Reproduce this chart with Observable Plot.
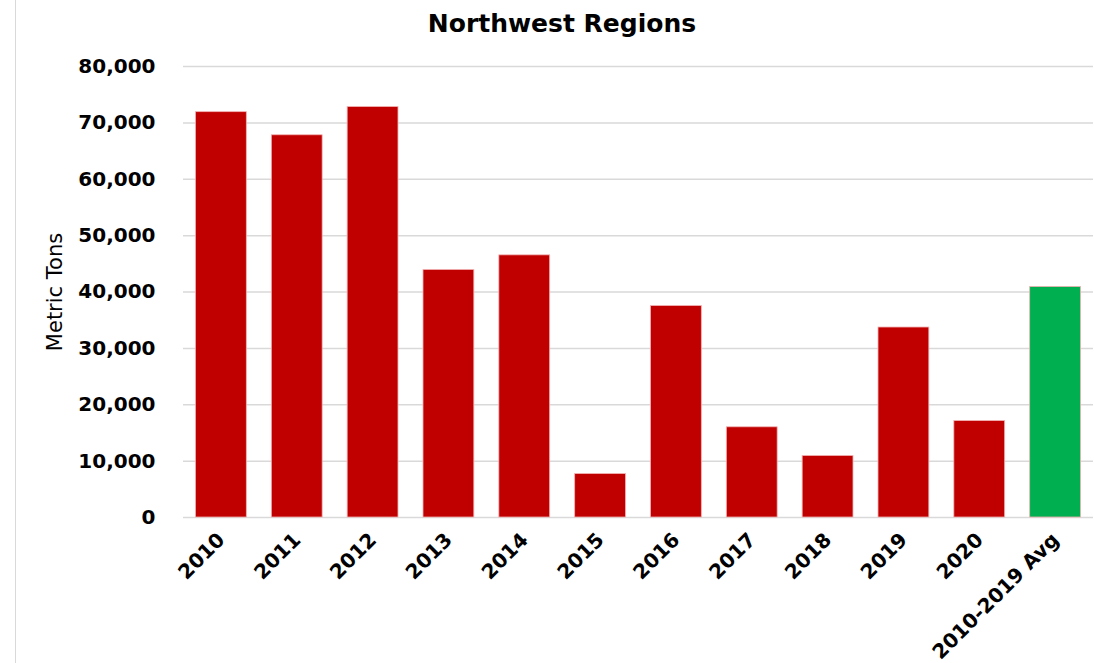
<!DOCTYPE html>
<html>
<head>
<meta charset="utf-8">
<script src="https://cdn.jsdelivr.net/npm/d3@7"></script>
<script src="https://cdn.jsdelivr.net/npm/@observablehq/plot@0.6"></script>
<style>
  html, body { margin: 0; padding: 0; background: #fff; }
  #wrap { position: relative; width: 1094px; height: 663px; overflow: hidden; }
  #edge { position: absolute; left: 15px; top: 0; width: 1px; height: 663px; background: #d9d9d9; }
  #title { width: 1094px; height: 46px; line-height: 48px; padding-left: 30px; box-sizing: border-box;
           text-align: center; font-family: "DejaVu Sans", sans-serif; font-weight: bold; font-size: 25px; color: #000; }
  #chart svg { overflow: visible; }
</style>
</head>
<body>
<div id="wrap">
  <div id="edge"></div>
  <div id="title">Northwest Regions</div>
  <div id="chart"></div>
</div>
<script>
const categories = ["2010","2011","2012","2013","2014","2015","2016","2017","2018","2019","2020","2010-2019 Avg"];
const values = [71900, 67800, 72800, 43900, 46500, 7700, 37500, 16000, 10900, 33700, 17100, 40900];
const barColors = ["#c00000","#c00000","#c00000","#c00000","#c00000","#c00000","#c00000","#c00000","#c00000","#c00000","#c00000","#00b050"];
const yTicks = [0, 10000, 20000, 30000, 40000, 50000, 60000, 70000, 80000];
const yLabel = "Metric Tons";

const data = categories.map((c, i) => ({category: c, value: values[i], color: barColors[i]}));

const chart = Plot.plot({
  width: 1094,
  height: 617,
  marginTop: 20,
  marginBottom: 146,
  marginLeft: 183,
  marginRight: 1,
  style: {fontFamily: "DejaVu Sans, sans-serif", color: "#000", background: "transparent"},
  x: {domain: categories, paddingInner: 0.33, paddingOuter: 0.165, round: false, label: null},
  y: {domain: [0, 80000], label: null},
  marks: [
    Plot.ruleY(yTicks, {stroke: "#d9d9d9", strokeWidth: 1.5}),
    Plot.barY(data, {x: "category", y: "value", fill: "color", stroke: "#f2b0b0", strokeWidth: 0.8}),
    Plot.axisY({ticks: yTicks, tickFormat: d3.format(","), tickSize: 0, tickPadding: 28,
                fontSize: 20, fontWeight: "bold", label: null}),
    Plot.axisX({tickSize: 0, tickPadding: 19, tickRotate: -45, fontSize: 20, fontWeight: "bold", label: null}),
    Plot.text([yLabel], {frameAnchor: "left", dx: -128, rotate: -90, fontSize: 21, fill: "#000", textAnchor: "middle"})
  ]
});
document.getElementById("chart").appendChild(chart);
</script>
</body>
</html>
